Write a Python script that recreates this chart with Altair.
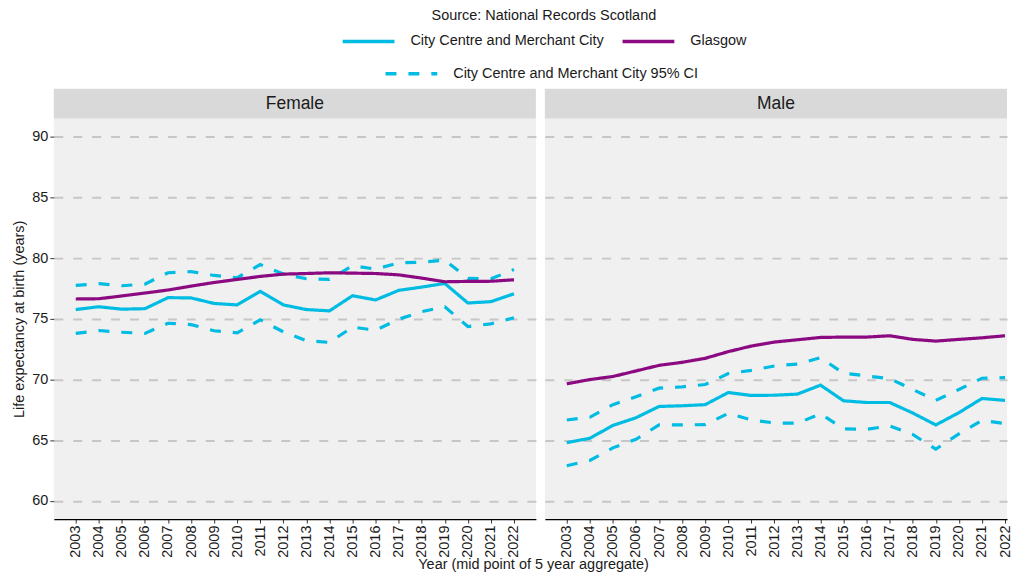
import altair as alt
import pandas as pd

years = list(range(2003, 2023))

female_cc = [75.77, 76.00, 75.80, 75.84, 76.75, 76.73, 76.27, 76.15, 77.27, 76.15,
             75.77, 75.66, 76.91, 76.56, 77.35, 77.62, 77.92, 76.31, 76.42, 77.07]
female_upper = [77.76, 77.90, 77.73, 77.87, 78.80, 78.90, 78.58, 78.39, 79.48, 78.70,
                78.31, 78.25, 79.38, 79.10, 79.62, 79.67, 79.84, 78.34, 78.30, 79.07]
female_lower = [73.80, 74.04, 73.90, 73.80, 74.64, 74.53, 74.02, 73.85, 74.92, 73.93,
                73.20, 73.06, 74.32, 74.07, 74.97, 75.60, 76.00, 74.37, 74.59, 75.10]
female_glasgow = [76.64, 76.66, 76.89, 77.13, 77.38, 77.70, 78.00, 78.25, 78.50, 78.69,
                  78.74, 78.80, 78.77, 78.74, 78.63, 78.36, 78.06, 78.09, 78.10, 78.22]

male_cc = [64.80, 65.16, 66.22, 66.85, 67.78, 67.84, 67.93, 68.93, 68.69, 68.71,
           68.80, 69.54, 68.25, 68.11, 68.11, 67.24, 66.26, 67.27, 68.44, 68.28]
male_upper = [66.67, 66.89, 67.93, 68.58, 69.29, 69.40, 69.59, 70.49, 70.76, 71.12,
              71.28, 71.80, 70.52, 70.30, 70.08, 69.18, 68.28, 69.18, 70.11, 70.16]
male_lower = [62.90, 63.33, 64.37, 65.08, 66.26, 66.26, 66.29, 67.21, 66.67, 66.42,
              66.40, 67.18, 65.93, 65.90, 66.18, 65.47, 64.26, 65.52, 66.64, 66.37]
male_glasgow = [69.65, 70.00, 70.25, 70.71, 71.17, 71.42, 71.75, 72.30, 72.76, 73.09,
                73.28, 73.47, 73.50, 73.50, 73.61, 73.31, 73.17, 73.31, 73.44, 73.61]

CC = "City Centre and Merchant City"
GL = "Glasgow"
CI = "City Centre and Merchant City 95% CI"
EST = "Estimate"
CYAN = "#00BCE3"
PURPLE = "#8B0A82"
TXT = "#1a1a1a"
FS = 14.5

rows = []
for sex, cc, lo, up, gl in [("Female", female_cc, female_lower, female_upper, female_glasgow),
                            ("Male", male_cc, male_lower, male_upper, male_glasgow)]:
    for i, yr in enumerate(years):
        rows.append(dict(sex=sex, year=yr, value=up[i], colour=CC, dash=CI, line="upper", layer="ci"))
        rows.append(dict(sex=sex, year=yr, value=lo[i], colour=CC, dash=CI, line="lower", layer="ci"))
        rows.append(dict(sex=sex, year=yr, value=cc[i], colour=CC, dash=EST, line="cc", layer="cc"))
        rows.append(dict(sex=sex, year=yr, value=gl[i], colour=GL, dash=EST, line="gl", layer="gl"))
df = pd.DataFrame(rows)

LEFT_W = 484
RIGHT_W = 464
PX_PER_YEAR = LEFT_W / 20.9
X0 = 2002.05
PANEL_H = 402
STRIP_H = 30

color_enc = alt.Color(
    "colour:N",
    scale=alt.Scale(domain=[CC, GL], range=[CYAN, PURPLE]),
    legend=alt.Legend(
        orient="none", legendX=288, legendY=-80, direction="horizontal",
        title="Source: National Records Scotland", titleFontSize=FS, titleFontWeight="normal",
        titleColor=TXT, titleAnchor="middle", titlePadding=-10, titleLimit=0,
        labelFontSize=FS, labelColor=TXT, labelOffset=14, columnPadding=11, labelLimit=0,
        symbolType="stroke", symbolSize=2704, symbolStrokeWidth=3.5,
    ),
)
dash_enc = alt.StrokeDash(
    "dash:N",
    scale=alt.Scale(domain=[EST, CI], range=[[1, 0], [11, 12]]),
    legend=alt.Legend(
        orient="none", legendX=331, legendY=-43, values=[CI], title=None,
        labelFontSize=FS, labelColor=TXT, labelOffset=14, labelLimit=0,
        symbolType="stroke", symbolSize=2704, symbolStrokeWidth=3.5,
        symbolStrokeColor=CYAN,
    ),
)

grid_kw = dict(grid=True, gridColor="#c6c6c6", gridDash=[9, 10], gridWidth=2)
xaxis_kw = dict(values=years, format="d", labelAngle=270, labelFontSize=FS,
                labelColor=TXT, tickColor="#333333", tickSize=4, labelPadding=2,
                domainColor="#000000", domainWidth=1.3, grid=False, title=None)


def panel(sex, width, left):
    xmax = X0 + width / PX_PER_YEAR
    xaxis = alt.Axis(**xaxis_kw)
    if left:
        yaxis = alt.Axis(values=[60, 65, 70, 75, 80, 85, 90], labelFontSize=FS, labelColor=TXT,
                         tickColor="#333333", tickSize=4, labelPadding=2, domain=False,
                         title="Life expectancy at birth (years)", titleFontSize=FS,
                         titleFontWeight="normal", titleColor=TXT, titlePadding=5, **grid_kw)
    else:
        yaxis = alt.Axis(values=[60, 65, 70, 75, 80, 85, 90], labels=False, ticks=False,
                         domain=False, title=None, **grid_kw)
    base = alt.Chart(df).transform_filter(alt.datum.sex == sex).encode(
        x=alt.X("year:Q", scale=alt.Scale(domain=[X0, xmax], nice=False, zero=False), axis=xaxis),
        y=alt.Y("value:Q", scale=alt.Scale(domain=[58.5, 91.5], nice=False, zero=False), axis=yaxis),
        color=color_enc,
        strokeDash=dash_enc,
        detail="line:N",
    )
    layers = [base.transform_filter(alt.datum.layer == k).mark_line(strokeWidth=3.2)
              for k in ["ci", "cc", "gl"]]
    p = alt.layer(*layers).properties(
        width=width, height=PANEL_H, view=alt.ViewBackground(fill="#f0f0f0", stroke=None))
    strip = alt.Chart(pd.DataFrame({"label": [sex]})).mark_text(
        fontSize=17.5, color=TXT, baseline="middle", align="center"
    ).encode(text="label:N", x=alt.value(width / 2), y=alt.value(STRIP_H / 2)).properties(
        width=width, height=STRIP_H, view=alt.ViewBackground(fill="#d9d9d9", stroke=None))
    return alt.vconcat(strip, p, spacing=0)


chart = alt.hconcat(panel("Female", LEFT_W, True), panel("Male", RIGHT_W, False),
                    spacing=9).properties(
    padding={"top": 0, "left": 3, "right": 0, "bottom": 0},
    background="white",
    title=alt.TitleParams("Year (mid point of 5 year aggregate)", orient="bottom",
                          anchor="middle", fontSize=FS, fontWeight="normal", color=TXT,
                          offset=1, dx=22),
).configure(font="Liberation Sans").configure_view(stroke=None)

chart.save("out.html", embed_options={"renderer": "svg", "actions": False})
